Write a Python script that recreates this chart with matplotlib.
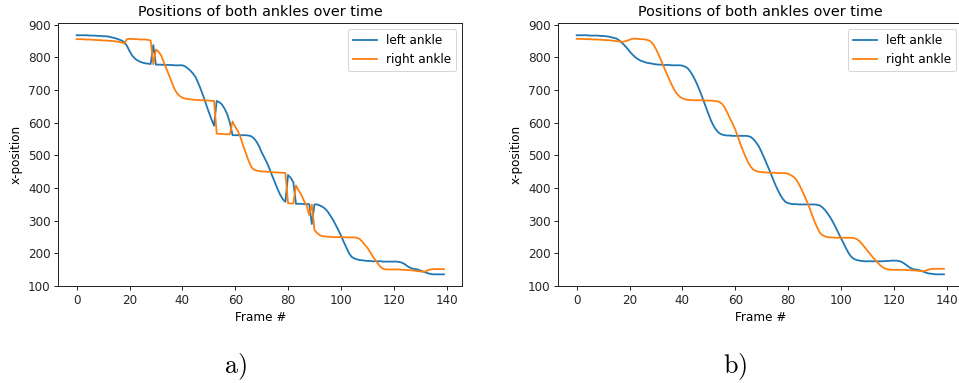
import matplotlib
matplotlib.use("Agg")
import matplotlib.pyplot as plt
import numpy as np

frames = np.arange(140)

# Panel a) raw tracking (with left/right swaps)
left_a = [
    868, 868, 868, 868, 868, 867, 867, 867, 866, 866,
    865, 865, 864, 862, 860, 858, 855, 852, 847, 836,
    820, 806, 797, 791, 787, 784, 782, 781, 780, 838,
    778, 778, 778, 777, 777, 777, 777, 776, 776, 776,
    776, 773, 767, 760, 751, 740, 722, 702, 680, 656,
    633, 611, 591, 667, 663, 656, 643, 626, 600, 562,
    562, 562, 562, 562, 562, 561, 559, 553, 543, 529,
    510, 494, 478, 459, 438, 418, 398, 380, 366, 358,
    440, 432, 418, 352, 352, 352, 351, 351, 351, 290,
    350, 350, 347, 343, 337, 328, 316, 303, 288, 272,
    255, 237, 219, 202, 190, 185, 182, 180, 179, 178,
    177, 177, 176, 176, 176, 176, 175, 175, 175, 175,
    175, 175, 174, 172, 168, 162, 157, 154, 152, 151,
    148, 145, 142, 139, 137, 136, 136, 136, 136, 136,
]
right_a = [
    856, 856, 856, 855, 855, 855, 854, 854, 853, 853,
    852, 852, 851, 851, 850, 849, 848, 846, 842, 856,
    857, 857, 856, 856, 855, 855, 855, 854, 852, 779,
    824, 818, 806, 785, 765, 745, 724, 704, 690, 682,
    677, 674, 673, 672, 671, 670, 670, 669, 669, 668,
    668, 667, 667, 567, 566, 566, 565, 565, 565, 604,
    588, 575, 556, 530, 508, 485, 466, 457, 454, 452,
    451, 451, 450, 450, 449, 448, 448, 447, 447, 446,
    354, 353, 353, 408, 393, 380, 362, 347, 318, 350,
    272, 262, 256, 253, 252, 251, 251, 250, 250, 250,
    250, 250, 249, 249, 249, 249, 248, 245, 237, 227,
    218, 205, 192, 180, 169, 159, 153, 151, 151, 151,
    151, 151, 151, 150, 150, 149, 149, 148, 147, 146,
    145, 144, 145, 149, 151, 152, 152, 152, 152, 152,
]

# Panel b) corrected / smoothed
left_b = [
    868, 868, 868, 868, 868, 867, 867, 867, 867, 866,
    866, 865, 864, 862, 860, 858, 853, 846, 838, 829,
    819, 810, 802, 796, 791, 788, 785, 783, 782, 780,
    779, 778, 778, 777, 777, 777, 776, 776, 776, 776,
    775, 772, 767, 757, 744, 728, 710, 690, 668, 646,
    624, 604, 588, 576, 568, 564, 562, 561, 561, 560,
    560, 560, 560, 560, 560, 559, 556, 549, 539, 527,
    510, 492, 473, 454, 434, 414, 396, 380, 367, 358,
    354, 352, 351, 351, 350, 350, 350, 350, 350, 350,
    350, 349, 347, 341, 333, 322, 310, 296, 280, 264,
    247, 231, 215, 200, 189, 183, 180, 178, 177, 176,
    176, 176, 176, 176, 176, 176, 176, 177, 177, 178,
    178, 178, 177, 174, 169, 163, 157, 153, 151, 150,
    148, 145, 142, 139, 138, 137, 136, 136, 136, 136,
]
right_b = [
    857, 857, 857, 856, 856, 856, 855, 855, 855, 854,
    854, 853, 853, 852, 851, 850, 849, 848, 849, 851,
    854, 857, 858, 857, 856, 856, 855, 853, 849, 840,
    826, 809, 790, 771, 752, 733, 716, 700, 688, 680,
    675, 672, 670, 670, 669, 669, 669, 669, 669, 668,
    668, 668, 667, 666, 664, 658, 647, 631, 614, 598,
    580, 557, 534, 514, 494, 477, 464, 456, 452, 450,
    449, 448, 448, 447, 447, 447, 446, 446, 446, 446,
    444, 440, 435, 427, 414, 398, 380, 362, 342, 320,
    298, 280, 264, 256, 252, 250, 249, 249, 248, 248,
    248, 248, 248, 248, 248, 247, 244, 238, 229, 219,
    209, 199, 189, 180, 171, 163, 157, 153, 151, 150,
    150, 150, 150, 150, 150, 149, 149, 148, 148, 147,
    146, 146, 147, 150, 152, 153, 153, 153, 153, 153,
]

title = "Positions of both ankles over time"
xlabel = "Frame #"
ylabel = "x-position"
series_names = ["left ankle", "right ankle"]
panel_labels = ["a)", "b)"]

W, H, DPI = 959, 383, 72
fig = plt.figure(figsize=(W / DPI, H / DPI), dpi=DPI)

def px_axes(x0, y0, x1, y1):
    return fig.add_axes([x0 / W, 1 - y1 / H, (x1 - x0) / W, (y1 - y0) / H])

ax_a = px_axes(58.3, 23.3, 462.3, 286.3)
ax_b = px_axes(558.3, 23.3, 962.3, 286.3)

for ax, (l, r) in zip([ax_a, ax_b], [(left_a, right_a), (left_b, right_b)]):
    ax.plot(frames, l, color="#1f77b4", lw=1.8, label=series_names[0])
    ax.plot(frames, r, color="#ff7f0e", lw=1.8, label=series_names[1])
    ax.set_title(title, fontsize=14.4, pad=7)
    ax.set_xlabel(xlabel, fontsize=12, labelpad=4)
    ax.set_ylabel(ylabel, fontsize=12, labelpad=5)
    ax.set_xticks([0, 20, 40, 60, 80, 100, 120, 140])
    ax.set_yticks([100, 200, 300, 400, 500, 600, 700, 800, 900])
    ax.tick_params(labelsize=12, length=4.2, width=1, colors="#262626")
    for s in ax.spines.values():
        s.set_linewidth(1)
        s.set_edgecolor("#262626")
    ax.legend(loc="upper right", fontsize=12)

fig.text(235 / W, 1 - 367 / H, r"$\mathrm{" + panel_labels[0] + "}$", fontsize=26,
         ha="center", va="center", math_fontfamily="cm")
fig.text(735 / W, 1 - 367 / H, r"$\mathrm{" + panel_labels[1] + "}$", fontsize=26,
         ha="center", va="center", math_fontfamily="cm")

fig.savefig("out.png", dpi=DPI)
